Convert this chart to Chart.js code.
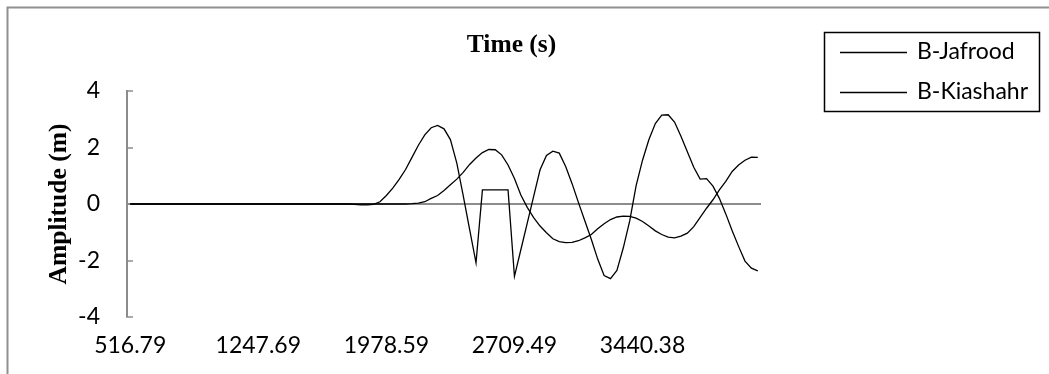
<!DOCTYPE html>
<html><head><meta charset="utf-8">
<script src="https://cdn.jsdelivr.net/npm/chart.js@4.4.1/dist/chart.umd.min.js"></script>
<style>html,body{margin:0;padding:0;background:#fff;overflow:hidden;} #wrap{width:1049px;height:374px;position:relative;}</style>
</head><body><div id="wrap"><canvas id="c" width="1049" height="374"></canvas></div>
<script>
const timeLabels = [
516.79,553.33,589.88,626.42,662.97,699.51,736.06,772.60,809.15,845.69,
882.24,918.78,955.33,991.87,1028.42,1064.96,1101.51,1138.05,1174.60,1211.14,
1247.69,1284.23,1320.78,1357.32,1393.87,1430.41,1466.96,1503.50,1540.05,1576.59,
1613.14,1649.68,1686.23,1722.77,1759.32,1795.86,1832.41,1868.95,1905.50,1942.04,
1978.59,2015.13,2051.68,2088.22,2124.77,2161.31,2197.86,2234.40,2270.95,2307.49,
2344.04,2380.58,2417.13,2453.67,2490.22,2526.76,2563.31,2599.85,2636.40,2672.94,
2709.49,2746.03,2782.58,2819.12,2855.67,2892.21,2928.76,2965.30,3001.85,3038.39,
3074.94,3111.48,3148.03,3184.57,3221.12,3257.66,3294.21,3330.75,3367.30,3403.84,
3440.38,3476.93,3513.47,3550.02,3586.56,3623.11,3659.65,3696.20,3732.74,3769.29,
3805.83,3842.38,3878.92,3915.47,3952.01,3988.56,4025.10,4061.65,4098.19
];
const jafrood = [
0,0,0,0,0,0,0,0,0,0,
0,0,0,0,0,0,0,0,0,0,
0,0,0,0,0,0,0,0,0,0,
0,0,0,0,0,-0.01,-0.03,-0.03,-0.01,0.08,
0.3,0.56,0.87,1.22,1.65,2.08,2.45,2.7,2.78,2.66,
2.28,1.45,0.3,-0.9,-2.08,0.5,0.5,0.5,0.5,0.5,
-2.56,-1.62,-0.68,0.27,1.21,1.72,1.87,1.8,1.33,0.72,
0.05,-0.6,-1.25,-1.95,-2.53,-2.64,-2.35,-1.55,-0.6,0.65,
1.55,2.28,2.85,3.15,3.16,2.9,2.4,1.85,1.3,0.88,
0.9,0.63,0.2,-0.35,-0.95,-1.5,-2.02,-2.27,-2.37
];
const kiashahr = [
0,0,0,0,0,0,0,0,0,0,
0,0,0,0,0,0,0,0,0,0,
0,0,0,0,0,0,0,0,0,0,
0,0,0,0,0,0,0,0,0,0,
0,0,0,0,0.01,0.03,0.08,0.2,0.3,0.48,
0.68,0.88,1.12,1.4,1.63,1.82,1.93,1.92,1.74,1.38,
0.9,0.32,-0.12,-0.48,-0.78,-1.02,-1.23,-1.33,-1.37,-1.36,
-1.3,-1.2,-1.08,-0.88,-0.7,-0.55,-0.46,-0.43,-0.44,-0.5,
-0.62,-0.78,-0.95,-1.08,-1.17,-1.2,-1.14,-1.03,-0.8,-0.47,
-0.15,0.15,0.5,0.8,1.15,1.38,1.55,1.66,1.65
];
const seriesNames = ['B-Jafrood','B-Kiashahr'];
const yMin = -4, yMax = 4, yStep = 2;
const labelEvery = 20;
const xTitle = 'Time (s)';
const yTitle = 'Amplitude (m)';

const tickFont = {family:'Lato', size:23};
const axisGray = '#8c8c8c';

const decor = {
  id:'decor',
  beforeDraw(chart){
    const ctx = chart.ctx;
    ctx.save();
    ctx.fillStyle = '#fff';
    ctx.fillRect(0,0,chart.width,chart.height);
    ctx.strokeStyle = '#8f8f8f';
    ctx.lineWidth = 2;
    ctx.beginPath();
    ctx.moveTo(7.5, chart.height);
    ctx.lineTo(7.5, 7.5);
    ctx.lineTo(chart.width, 7.5);
    ctx.stroke();
    ctx.restore();
  },
  afterDraw(chart){
    const ctx = chart.ctx;
    ctx.save();
    ctx.fillStyle = '#000';
    ctx.font = 'bold 25.5px "Liberation Serif"';
    ctx.textAlign = 'center';
    ctx.textBaseline = 'alphabetic';
    ctx.fillText(xTitle, 511.5, 52);
    ctx.save();
    ctx.translate(66, 204);
    ctx.rotate(-Math.PI/2);
    ctx.fillText(yTitle, 0, 0);
    ctx.restore();
    // legend
    ctx.strokeStyle = '#000';
    ctx.lineWidth = 1.5;
    ctx.strokeRect(824.5, 32.5, 215, 79);
    ctx.font = '23px Lato';
    ctx.textAlign = 'left';
    ctx.textBaseline = 'middle';
    const rows = [52, 92];
    chart.data.datasets.forEach((ds, k) => {
      const y = rows[k];
      ctx.strokeStyle = ds.borderColor;
      ctx.lineWidth = ds.borderWidth;
      ctx.beginPath();
      ctx.moveTo(840, y + 0.5);
      ctx.lineTo(907, y + 0.5);
      ctx.stroke();
      ctx.fillStyle = '#000';
      ctx.fillText(ds.label, 917, y);
    });
    ctx.restore();
  }
};

new Chart(document.getElementById('c'), {
  type:'line',
  data:{
    labels: timeLabels,
    datasets:[
      {label: seriesNames[0], data: jafrood, borderColor:'#000', borderWidth:1.3, pointRadius:0, tension:0, fill:false},
      {label: seriesNames[1], data: kiashahr, borderColor:'#000', borderWidth:1.3, pointRadius:0, tension:0, fill:false}
    ]
  },
  options:{
    responsive:false,
    animation:false,
    devicePixelRatio:1,
    layout:{padding:{left:0, right:288, top:91, bottom:7}},
    plugins:{legend:{display:false}, title:{display:false}, tooltip:{enabled:false}},
    scales:{
      x:{
        type:'category',
        offset:true,
        grid:{display:false, drawTicks:false},
        border:{display:false},
        ticks:{
          autoSkip:false, maxRotation:0, minRotation:0,
          color:'#000', font:tickFont, padding:15,
          callback:(v, i) => (i % labelEvery === 0) ? timeLabels[i].toFixed(2) : ''
        },
        afterFit:(s) => { s.height = 50; }
      },
      y:{
        min:yMin, max:yMax,
        ticks:{stepSize:yStep, color:'#000', font:tickFont, padding:33},
        grid:{
          drawOnChartArea:true,
          color:(c) => c.tick && c.tick.value === 0 ? axisGray : 'rgba(0,0,0,0)',
          lineWidth:(c) => c.tick && c.tick.value === 0 ? 2 : 0,
          tickColor:axisGray, tickWidth:1.5, tickLength:-6
        },
        border:{color:axisGray, width:2},
        afterFit:(s) => { s.width = 127; }
      }
    }
  },
  plugins:[decor]
});
</script>
</body></html>
